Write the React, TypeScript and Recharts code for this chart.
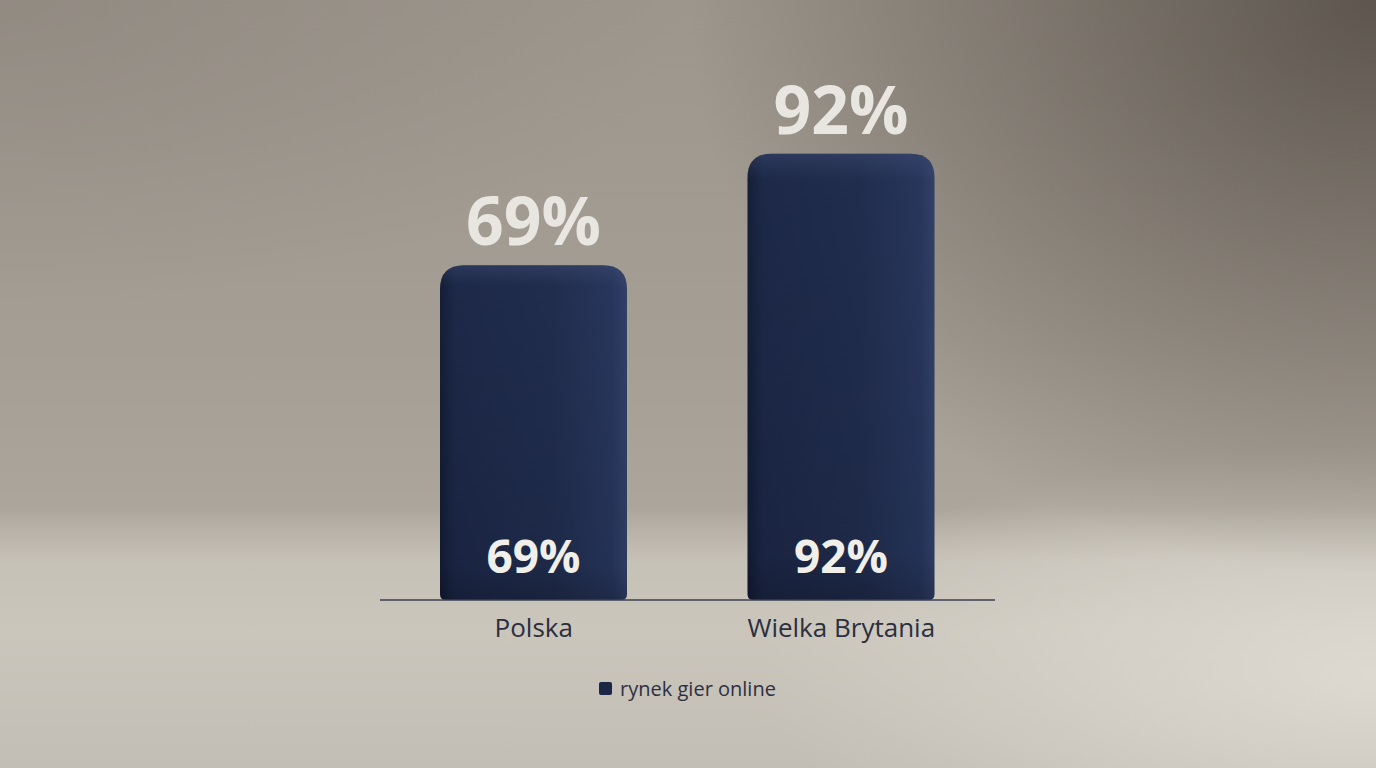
import React from 'react';
import { BarChart, Bar, XAxis, YAxis, Legend, LabelList } from 'recharts';

const categories = ['Polska', 'Wielka Brytania'];
const values = [69, 92];
const seriesName = 'rynek gier online';
const data = categories.map((c, i) => ({ name: c, value: values[i] }));

const BarShape = (props: any) => {
  const { x, y, width, height } = props;
  const r = Math.min(24, width / 2, height);
  const rb = 6;
  const b = y + height;
  const d = `M${x},${y + r} Q${x},${y} ${x + r},${y} L${x + width - r},${y} Q${x + width},${y} ${x + width},${y + r} L${x + width},${b - rb} Q${x + width},${b} ${x + width - rb},${b} L${x + rb},${b} Q${x},${b} ${x},${b - rb} Z`;
  return (
    <g>
      <path d={d} fill="url(#barGrad)" />
      <path d={d} fill="url(#barShade)" />
    </g>
  );
};

const InsideLabel = (props: any) => {
  const { x, y, width, height, value } = props;
  return (
    <text
      x={x + width / 2}
      y={y + height - 27}
      textAnchor="middle"
      fill="#f1efea"
      fontFamily="'Open Sans', sans-serif"
      fontWeight={700}
      fontSize={46}
    >
      {value}%
    </text>
  );
};

const TopLabel = (props: any) => {
  const { x, y, width, value } = props;
  return (
    <text
      x={x + width / 2}
      y={y - 20}
      textAnchor="middle"
      fill="#e9e6e1"
      fontFamily="'Open Sans', sans-serif"
      fontWeight={700}
      fontSize={66}
    >
      {value}%
    </text>
  );
};

const LegendContent = () => (
  <div
    style={{
      height: 40,
      display: 'flex',
      alignItems: 'center',
      justifyContent: 'center',
      fontFamily: "'Open Sans', sans-serif",
      fontSize: 20,
      color: '#2d3142',
    }}
  >
    <span
      style={{
        display: 'inline-block',
        width: 13,
        height: 13,
        borderRadius: 2,
        background: '#1c2746',
        marginRight: 8,
      }}
    />
    <span>{seriesName}</span>
  </div>
);

export default function App() {
  return (
    <div
      style={{
        position: 'absolute',
        left: 0,
        top: 0,
        width: 1376,
        height: 768,
        overflow: 'hidden',
        background: [
          'radial-gradient(ellipse 50% 75% at 100% 0%, rgba(78,70,62,0.8) 0%, rgba(78,70,62,0.35) 55%, rgba(78,70,62,0) 100%)',
          'radial-gradient(ellipse 50% 40% at 0% 0%, rgba(120,112,104,0.3) 0%, rgba(120,112,104,0) 100%)',
          'radial-gradient(ellipse 45% 30% at 100% 88%, rgba(228,224,216,0.75) 0%, rgba(228,224,216,0) 100%)',
          'linear-gradient(180deg, #9d968d 0%, #a59e95 45%, #aca59b 66%, #c6c1b7 73%, #cbc6bc 82%, #c3beb5 100%)',
        ].join(', '),
      }}
    >
      <BarChart
        width={1376}
        height={768}
        data={data}
        margin={{ top: 115, right: 381, bottom: 60, left: 380 }}
        barCategoryGap={0}
      >
        <defs>
          <linearGradient id="barGrad" x1="0" y1="0" x2="1" y2="0">
            <stop offset="0%" stopColor="#131b33" />
            <stop offset="8%" stopColor="#1b2645" />
            <stop offset="60%" stopColor="#1f2b4b" />
            <stop offset="92%" stopColor="#26345a" />
            <stop offset="100%" stopColor="#303f66" />
          </linearGradient>
          <linearGradient id="barShade" x1="0" y1="0" x2="0" y2="1">
            <stop offset="0%" stopColor="#4a5a80" stopOpacity={0.35} />
            <stop offset="6%" stopColor="#4a5a80" stopOpacity={0.05} />
            <stop offset="90%" stopColor="#000" stopOpacity={0.05} />
            <stop offset="100%" stopColor="#000" stopOpacity={0.2} />
          </linearGradient>
        </defs>
        <XAxis
          dataKey="name"
          height={68}
          tickSize={0}
          tickMargin={19}
          axisLine={{ stroke: '#3a3f52', strokeWidth: 1.5 }}
          tick={{ fill: '#2b2f40', fontSize: 26, fontFamily: "'Open Sans', sans-serif" }}
        />
        <YAxis hide domain={[0, 100]} />
        <Legend verticalAlign="bottom" content={<LegendContent />} wrapperStyle={{ height: 40 }} />
        <Bar
          dataKey="value"
          name={seriesName}
          barSize={187}
          isAnimationActive={false}
          shape={<BarShape />}
        >
          <LabelList dataKey="value" content={<TopLabel />} />
          <LabelList dataKey="value" content={<InsideLabel />} />
        </Bar>
      </BarChart>
    </div>
  );
}
